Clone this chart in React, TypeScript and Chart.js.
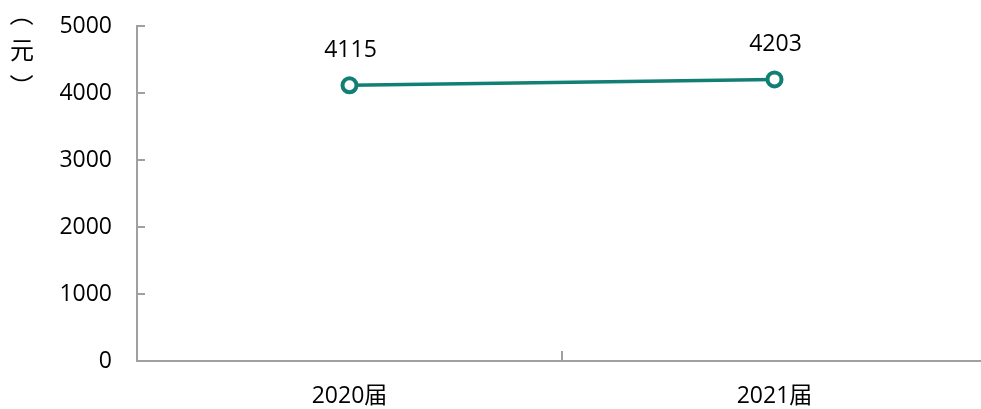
import React, { useEffect, useRef } from "react";
import { Chart, registerables } from "chart.js";

Chart.register(...registerables);

const categories = ["2020届", "2021届"];
const values = [4115, 4203];
const yTicks = [0, 1000, 2000, 3000, 4000, 5000];
const yTitle = "（元）";

const TEAL = "#127f75";
const AXIS = "#a0a0a0";
const FONT = "'Open Sans', 'Noto Sans CJK SC', sans-serif";

const labelPlugin = {
  id: "labels",
  afterDatasetsDraw(chart: any) {
    const ctx = chart.ctx;
    const meta = chart.getDatasetMeta(0);
    ctx.save();
    ctx.fillStyle = "#000";
    ctx.font = `23px ${FONT}`;
    ctx.textAlign = "center";
    ctx.textBaseline = "middle";
    meta.data.forEach((pt: any, i: number) => {
      ctx.fillText(String(values[i]), pt.x + 1, pt.y - 35);
    });
    // vertical y-axis title
    const chars = Array.from(yTitle);
    const ys = [14, 50, 86];
    chars.forEach((c, i) => {
      ctx.save();
      ctx.translate(22, ys[i]);
      if (c === "（" || c === "）") ctx.rotate(Math.PI / 2);
      ctx.font = `24px 'Noto Sans CJK SC', sans-serif`;
      ctx.textAlign = "center";
      ctx.textBaseline = "middle";
      ctx.fillText(c, 0, 0);
      ctx.restore();
    });
    ctx.restore();
  },
};

export default function App() {
  const ref = useRef<HTMLCanvasElement>(null);
  useEffect(() => {
    if (!ref.current) return;
    const chart = new Chart(ref.current, {
      type: "line",
      data: {
        labels: categories,
        datasets: [
          {
            data: values,
            borderColor: TEAL,
            borderWidth: 3.5,
            pointRadius: 7,
            pointBorderWidth: 4,
            pointBackgroundColor: "#fff",
            pointBorderColor: TEAL,
            tension: 0,
          },
        ],
      },
      options: {
        responsive: false,
        animation: false,
        layout: { padding: { left: 0, top: 26, right: 13, bottom: 0 } },
        plugins: { legend: { display: false }, tooltip: { enabled: false } },
        scales: {
          x: {
            type: "category",
            offset: true,
            grid: {
              offset: true,
              drawOnChartArea: false,
              drawTicks: true,
              tickLength: -10,
              color: AXIS,
              lineWidth: 2,
            },
            border: { color: AXIS, width: 2 },
            ticks: { color: "#000", font: { family: FONT, size: 23 }, padding: 32 },
            afterFit(s: any) {
              s.height = 48;
              s.paddingLeft = 0;
              s.paddingRight = 0;
            },
          },
          y: {
            min: 0,
            max: 5000,
            afterBuildTicks(s: any) {
              s.ticks = yTicks.map((v) => ({ value: v }));
            },
            grid: {
              drawOnChartArea: false,
              drawTicks: true,
              tickLength: -8,
              color: AXIS,
              lineWidth: 2,
            },
            border: { color: AXIS, width: 2 },
            ticks: {
              color: "#000",
              font: { family: FONT, size: 23 },
              padding: 33,
              callback: (v: any) => String(v),
            },
            afterFit(s: any) {
              s.width = 137;
              s.paddingTop = 0;
              s.paddingBottom = 0;
            },
          },
        },
      },
      plugins: [labelPlugin],
    });
    return () => chart.destroy();
  }, []);
  return (
    <div
      style={{
        position: "fixed",
        left: 0,
        top: 0,
        width: 981,
        height: 409,
        overflow: "hidden",
        background: "#fff",
      }}
    >
      <canvas ref={ref} width={1000} height={409} style={{ width: 1000, height: 409 }} />
    </div>
  );
}
